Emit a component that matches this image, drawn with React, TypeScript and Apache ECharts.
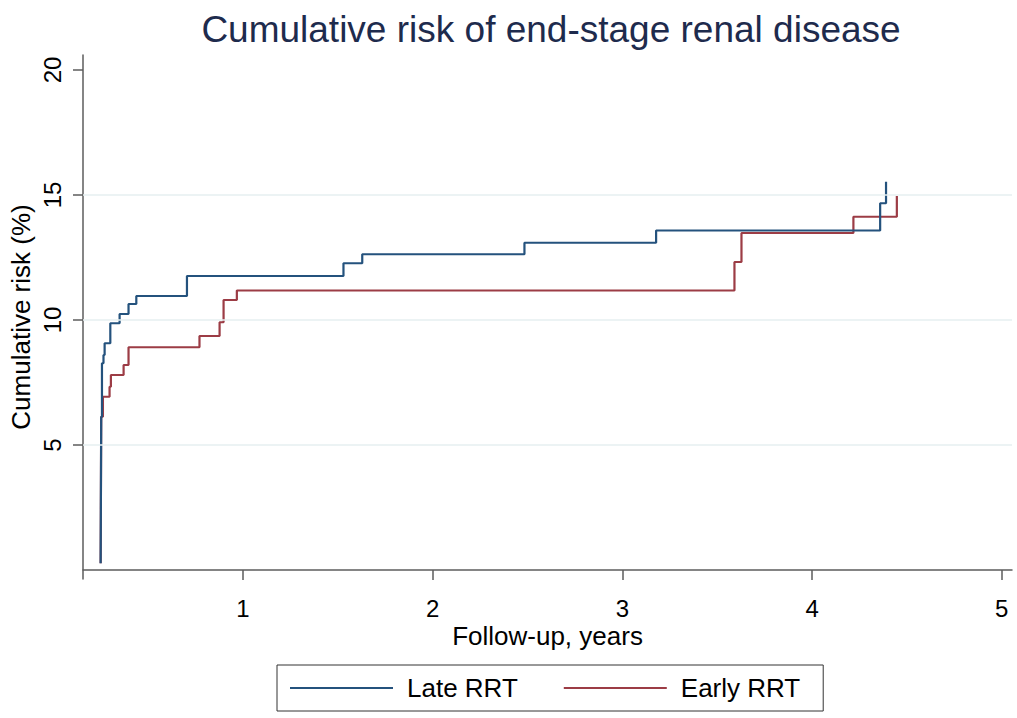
import React, { useEffect, useRef } from "react";
import * as echarts from "echarts";

// Kaplan–Meier style cumulative risk (%) step points: [time (years), risk after event]
const lateTimes = [0.25, 0.253, 0.257, 0.265, 0.271, 0.301, 0.35, 0.397, 0.438, 0.705, 1.53, 1.629, 2.484, 3.178, 4.359, 4.39];
const lateRisk = [0.27, 6.13, 8.27, 8.6, 9.07, 9.87, 10.24, 10.64, 10.96, 11.76, 12.27, 12.63, 13.09, 13.58, 14.67, 15.53];

const earlyTimes = [0.25, 0.253, 0.262, 0.297, 0.304, 0.371, 0.397, 0.771, 0.877, 0.898, 0.968, 3.591, 3.628, 4.218, 4.447];
const earlyRisk = [0.27, 6.13, 6.93, 7.33, 7.8, 8.2, 8.91, 9.36, 9.91, 10.8, 11.18, 12.32, 13.48, 14.13, 14.96];

const seriesNames = ["Late RRT", "Early RRT"];
const xTicks = [1, 2, 3, 4, 5];
const yTicks = [5, 10, 15, 20];
const gridValues = [5, 10, 15];

const FONT = "Liberation Sans, Arial, Helvetica, sans-serif";
const BLUE = "#24527d";
const RED = "#9c3c45";
const AXIS = "#5c5c5c";

export default function App() {
  const ref = useRef<HTMLDivElement>(null);

  useEffect(() => {
    document.body.style.margin = "0";
    if (!ref.current) return;
    const chart = echarts.init(ref.current, undefined, { renderer: "svg" });

    const lateData = lateTimes.map((t, i) => [t, lateRisk[i]]);
    const earlyData = earlyTimes.map((t, i) => [t, earlyRisk[i]]);

    chart.setOption({
      animation: false,
      backgroundColor: "#ffffff",
      title: {
        text: "Cumulative risk of end-stage renal disease",
        left: 551,
        top: 11,
        textAlign: "center",
        padding: 0,
        textStyle: {
          fontFamily: FONT,
          fontSize: 37,
          fontWeight: "normal",
          color: "#1e2b4d",
        },
      },
      grid: {
        left: 83,
        right: 5,
        top: 55,
        bottom: 139,
        containLabel: false,
        outerBoundsMode: "none",
      },
      legend: {
        data: seriesNames,
        left: 277,
        top: 665,
        orient: "horizontal",
        padding: [10, 23, 10, 13],
        itemGap: 46,
        itemWidth: 103,
        itemHeight: 2,
        icon: "rect",
        borderColor: "#333333",
        borderWidth: 1,
        borderRadius: 0,
        textStyle: {
          fontFamily: FONT,
          fontSize: 26,
          color: "#000000",
          padding: [0, 0, 0, 9],
        },
      },
      xAxis: {
        type: "value",
        min: 0.157,
        max: 5.054,
        name: "Follow-up, years",
        nameLocation: "middle",
        nameGap: 44,
        nameMoveOverlap: false,
        nameTextStyle: { fontFamily: FONT, fontSize: 26, color: "#000000" },
        axisLine: { show: true, lineStyle: { color: AXIS, width: 1.5 } },
        axisTick: {
          show: true,
          length: 10,
          customValues: xTicks,
          lineStyle: { color: AXIS, width: 1.5 },
        },
        axisLabel: {
          customValues: xTicks,
          margin: 17,
          fontFamily: FONT,
          fontSize: 24,
          color: "#000000",
          formatter: (v: number) => (xTicks.includes(v) ? String(v) : ""),
        },
        splitLine: { show: false },
      },
      yAxis: {
        type: "value",
        min: -0.36,
        max: 20.6,
        name: "Cumulative risk (%)",
        nameLocation: "middle",
        nameRotate: 90,
        nameGap: 49,
        nameMoveOverlap: false,
        nameTextStyle: { fontFamily: FONT, fontSize: 26, color: "#000000" },
        axisLine: { show: true, lineStyle: { color: AXIS, width: 1.5 } },
        axisTick: {
          show: true,
          length: 10,
          customValues: yTicks,
          lineStyle: { color: AXIS, width: 1.5 },
        },
        axisLabel: {
          customValues: yTicks,
          rotate: 90,
          margin: 19,
          fontFamily: FONT,
          fontSize: 24,
          color: "#000000",
          formatter: (v: number) => (yTicks.includes(v) ? String(v) : ""),
        },
        splitLine: { show: false },
      },
      series: [
        {
          name: "grid",
          type: "line",
          data: [],
          z: 1,
          silent: true,
          markLine: {
            silent: true,
            symbol: ["none", "none"],
            label: { show: false },
            lineStyle: { color: "#e6eff1", width: 1.5, type: "solid" },
            data: gridValues.map((v) => ({ yAxis: v })),
          },
        },
        {
          name: seriesNames[0],
          type: "line",
          step: "end",
          symbol: "none",
          showSymbol: false,
          z: 3,
          data: lateData,
          lineStyle: { color: BLUE, width: 2.2 },
          itemStyle: { color: BLUE },
        },
        {
          name: seriesNames[1],
          type: "line",
          step: "end",
          symbol: "none",
          showSymbol: false,
          z: 2,
          data: earlyData,
          lineStyle: { color: RED, width: 2.2 },
          itemStyle: { color: RED },
        },
      ],
    });

    return () => {
      chart.dispose();
    };
  }, []);

  return (
    <div
      ref={ref}
      style={{ position: "absolute", left: 0, top: 0, width: 1017, height: 718 }}
    />
  );
}
